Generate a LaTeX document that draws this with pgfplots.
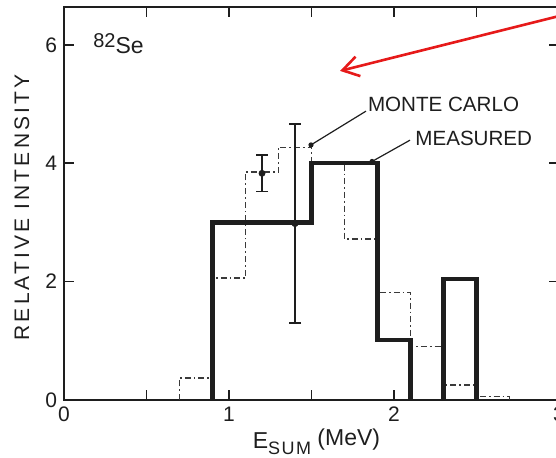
\documentclass[border=0pt]{standalone}
\usepackage{fontspec}
\setmainfont{Liberation Sans}
\usepackage{pgfplots}
\pgfplotsset{compat=1.18}
\usetikzlibrary{arrows.meta}
\definecolor{ink}{HTML}{1E1E1E}
\definecolor{mcgray}{HTML}{3A3A3A}
\definecolor{arrowred}{HTML}{E61A1A}

\begin{document}
\begin{tikzpicture}
\path[use as bounding box, clip] (-32pt,-29pt) rectangle (246pt,200pt);
\begin{axis}[
  at={(0,0)}, anchor=south west,
  scale only axis, width=247.5pt, height=196.5pt,
  xmin=0, xmax=3, ymin=0, ymax=6.64,
  xtick={0,1,2,3}, minor xtick={0.5,1.5,2.5},
  ytick={0,2,4,6},
  tick align=inside,
  major tick length=5pt, minor tick length=5pt,
  tick style={ink, line width=0.8pt},
  axis line style={ink, line width=1pt},
  /pgf/number format/assume math mode=true,
  tick label style={font=\fontsize{10.5}{12}\selectfont, ink},
  xlabel={E\raisebox{-0.5ex}{\fontsize{9}{10}\selectfont\addfontfeature{LetterSpace=8}SUM}\ \raisebox{0.3ex}{(MeV)}},
  xlabel style={at={(axis description cs:0.51,0)}, anchor=north, yshift=-14pt, inner sep=0pt, font=\fontsize{11.5}{13}\selectfont, ink},
  ylabel={\addfontfeature{LetterSpace=15}RELATIVE INTENSITY},
  ylabel style={at={(axis description cs:-0.085,0.49)}, anchor=center, font=\fontsize{10.5}{12}\selectfont, ink},
]
% Monte Carlo histogram (dash-dot)
\addplot[const plot, mcgray, line width=0.7pt, dash pattern=on 3pt off 1.5pt on 0.8pt off 1.5pt] coordinates {
  (0.7,0) (0.7,0.37) (0.9,2.06) (1.1,3.85) (1.3,4.27) (1.5,4.0)
  (1.7,2.72) (1.9,1.82) (2.1,0.9) (2.3,0.25) (2.5,0.06) (2.7,0)
};
% Measured histogram (thick)
\addplot[const plot, ink, line width=2.1pt] coordinates {
  (0.9,0) (0.9,3.0) (1.5,4.0) (1.9,1.02) (2.1,0)
};
\addplot[const plot, ink, line width=2.1pt] coordinates {
  (2.3,0) (2.3,2.05) (2.5,0)
};
% error bars
\addplot[only marks, mark=*, mark size=1.5pt, ink,
  error bars/.cd, y dir=both, y explicit,
  error bar style={line width=0.7pt, ink},
  error mark options={rotate=90, mark size=3pt, line width=0.7pt}] coordinates {
  (1.2,3.83) +- (0,0.31)
  (1.4,2.98) +- (0,1.68)
};

% annotations
\draw[ink, line width=0.6pt] (axis cs:1.497,4.31) -- (axis cs:1.83,4.88);
\fill[ink] (axis cs:1.497,4.31) circle (1.3pt);
\node[anchor=west, inner sep=0pt, font=\fontsize{10.3}{12}\selectfont, ink] at (axis cs:1.84,5.0) {MONTE CARLO};
\draw[ink, line width=0.6pt] (axis cs:1.867,4.03) -- (axis cs:2.097,4.39);
\fill[ink] (axis cs:1.867,4.03) circle (1.3pt);
\node[anchor=west, inner sep=0pt, font=\fontsize{10.3}{12}\selectfont, ink] at (axis cs:2.127,4.42) {MEASURED};
\node[anchor=base west, inner sep=0pt, ink] at (axis cs:0.175,5.85)
  {\raisebox{0.55ex}{\fontsize{10}{11}\selectfont 82}\fontsize{11.5}{13}\selectfont Se};

% red arrow
\draw[arrowred, line width=1.3pt, -{Straight Barb[length=8pt, width=10pt]}]
  (axis cs:3.1,6.557) -- (axis cs:1.673,5.56);
\end{axis}
\end{tikzpicture}
\end{document}
